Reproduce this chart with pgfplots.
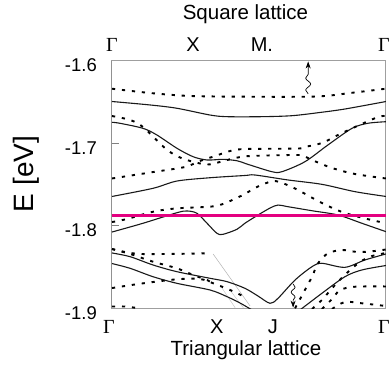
\documentclass[border=0pt]{standalone}
\usepackage{pgfplots}
\pgfplotsset{compat=1.18}
\usepackage{fontspec}
\setmainfont{Liberation Sans}
\newfontfamily\serif{Liberation Serif}
\usetikzlibrary{decorations.pathmorphing,arrows.meta}
\definecolor{mag}{RGB}{228,0,128}
\begin{document}
\begin{tikzpicture}
\pgfplotsset{
  sol/.style={black!90, line width=1.1pt, smooth, tension=0.5, no markers},
  dot/.style={black, line width=1.9pt, dash pattern=on 3.2pt off 6.8pt, smooth, tension=0.5, no markers},
}
\begin{axis}[
  at={(0,0)}, anchor=south west,
  scale only axis, width=274pt, height=247.5pt,
  xmin=0, xmax=1, ymin=-1.9, ymax=-1.6,
  xtick=\empty,
  ytick={-1.9,-1.8,-1.7,-1.6},
  yticklabels={-1.9,-1.8,-1.7,-1.6},
  ytick pos=left, tick align=inside,
  major tick length=7pt,
  tick style={gray, line width=0.8pt},
  yticklabel style={font=\fontsize{18.5}{20}\selectfont, anchor=east, inner sep=0pt, xshift=-15pt, yshift=-5pt},
  axis line style={gray!75, line width=1pt},
  clip=true,
]
\addplot[dot] coordinates {(0,-1.6342)(0.139,-1.6394)(0.285,-1.6430)(0.504,-1.6439)(0.748,-1.6436)(0.869,-1.6394)(1,-1.6342)};
\addplot[sol] coordinates {(0,-1.6497)(0.139,-1.6539)(0.237,-1.6579)(0.358,-1.6661)(0.420,-1.6681)(0.547,-1.6681)(0.657,-1.6669)(0.759,-1.6630)(0.850,-1.6588)(1,-1.6497)};
\addplot[sol] coordinates {(0,-1.6749)(0.029,-1.6761)(0.113,-1.6822)(0.164,-1.6903)(0.237,-1.7064)(0.296,-1.7166)(0.347,-1.7206)(0.405,-1.7198)(0.456,-1.7215)(0.485,-1.7246)(0.504,-1.7267)(0.584,-1.7348)(0.620,-1.7348)(0.704,-1.7227)(0.788,-1.7024)(0.876,-1.6822)(0.934,-1.6761)(1,-1.6742)};
\addplot[dot] coordinates {(0,-1.6673)(0.066,-1.6721)(0.113,-1.6806)(0.193,-1.7061)(0.237,-1.7158)(0.285,-1.7218)(0.347,-1.7261)(0.394,-1.7230)(0.449,-1.7182)(0.504,-1.7158)(0.679,-1.7145)(0.704,-1.7164)(0.730,-1.7206)(0.803,-1.7303)(0.887,-1.7376)(1,-1.7430)};
\addplot[dot] coordinates {(0,-1.7430)(0.150,-1.7352)(0.266,-1.7291)(0.321,-1.7218)(0.376,-1.7158)(0.431,-1.7097)(0.485,-1.7073)(0.679,-1.7067)(0.704,-1.7048)(0.766,-1.7000)(0.825,-1.6903)(0.887,-1.6806)(0.971,-1.6685)(1,-1.6673)};
\addplot[sol] coordinates {(0,-1.7648)(0.150,-1.7549)(0.237,-1.7461)(0.358,-1.7421)(0.485,-1.7394)(0.522,-1.7388)(0.642,-1.7448)(0.766,-1.7501)(0.887,-1.7590)(1,-1.7648)};
\addplot[dot] coordinates {(0,-1.7958)(0.055,-1.7921)(0.150,-1.7833)(0.237,-1.7792)(0.358,-1.7772)(0.405,-1.7739)(0.478,-1.7630)(0.529,-1.7533)(0.588,-1.7461)(0.631,-1.7497)(0.679,-1.7570)(0.766,-1.7727)(0.850,-1.7848)(0.971,-1.7952)(1,-1.7958)};
\addplot[sol] coordinates {(0,-1.8079)(0.113,-1.7973)(0.237,-1.7845)(0.274,-1.7824)(0.310,-1.7852)(0.347,-1.7973)(0.383,-1.8095)(0.405,-1.8107)(0.456,-1.8046)(0.485,-1.7973)(0.533,-1.7873)(0.577,-1.7788)(0.606,-1.7752)(0.642,-1.7772)(0.730,-1.7821)(0.825,-1.7873)(0.912,-1.7973)(1,-1.8075)};
\addplot[mag, line width=3pt, no markers] coordinates {(0,-1.7881)(1,-1.7881)};
% lower bands
\addplot[dot] coordinates {(0,-1.8285)(0.047,-1.8321)(0.102,-1.8345)(0.212,-1.8345)(0.321,-1.8339)(0.358,-1.8333)};
\addplot[gray!60, line width=0.5pt, no markers] coordinates {(0.369,-1.8345)(0.504,-1.8976)};
\addplot[gray!50, line width=0.4pt, no markers] coordinates {(0.40,-1.875)(0.45,-1.900)};
\addplot[gray!50, line width=0.4pt, no markers] coordinates {(0.43,-1.878)(0.48,-1.900)};
\addplot[dot] coordinates {(0,-1.8285)(0.066,-1.8345)(0.150,-1.8439)(0.237,-1.8519)(0.296,-1.8600)(0.347,-1.8661)(0.376,-1.8721)};
\addplot[sol] coordinates {(0,-1.8333)(0.066,-1.8378)(0.150,-1.8479)(0.237,-1.8560)(0.358,-1.8640)(0.420,-1.8681)(0.485,-1.8761)(0.533,-1.8855)(0.577,-1.8943)(0.606,-1.8882)(0.668,-1.8661)(0.730,-1.8499)(0.766,-1.8458)(0.850,-1.8507)(0.923,-1.8418)(1,-1.8345)};
\addplot[sol] coordinates {(0,-1.8461)(0.066,-1.8519)(0.150,-1.8621)(0.237,-1.8701)(0.358,-1.8782)(0.420,-1.8863)(0.467,-1.8939)(0.511,-1.9024)};
\addplot[dot] coordinates {(0,-1.8758)(0.113,-1.8701)(0.237,-1.8652)(0.321,-1.8648)(0.376,-1.8709)(0.431,-1.8782)(0.485,-1.8867)};
\addplot[dot] coordinates {(0,-1.8982)(0.047,-1.8982)(0.091,-1.9)};
\addplot[dot] coordinates {(0.668,-1.9004)(0.704,-1.8782)(0.730,-1.8621)(0.752,-1.8458)(0.788,-1.8337)(0.839,-1.8297)(0.887,-1.8318)(0.934,-1.8318)(1,-1.8291)};
\addplot[dot] coordinates {(0.730,-1.9012)(0.766,-1.8903)(0.814,-1.8721)(0.861,-1.8564)(0.905,-1.8442)(0.949,-1.8370)(1,-1.8333)};
\addplot[sol] coordinates {(0.686,-1.9024)(0.766,-1.8822)(0.850,-1.8621)(0.912,-1.8539)(1,-1.8485)};
\addplot[dot] coordinates {(0.766,-1.9012)(0.807,-1.8879)(0.832,-1.8782)(0.887,-1.8742)(1,-1.8739)};
\addplot[dot] coordinates {(0.803,-1.9012)(0.850,-1.8927)(0.912,-1.8943)(1,-1.8976)};
% arrows
\draw[black, line width=0.7pt, -{Stealth[length=7pt,width=5pt]}, decorate, decoration={snake, amplitude=2.5pt, segment length=12pt, post length=7pt}] (axis cs:0.716,-1.6404) -- (axis cs:0.716,-1.6012);
\draw[black, line width=0.7pt, -{Stealth[length=7pt,width=5pt]}, decorate, decoration={snake, amplitude=2pt, segment length=10pt, post length=7pt}] (axis cs:0.661,-1.8709) -- (axis cs:0.661,-1.8995);
% left spine darker
\draw[gray!40!black, line width=1pt] (rel axis cs:0,0) -- (rel axis cs:0,1);
\end{axis}
% top labels
\node[font=\serif\fontsize{20}{22}\selectfont] at (0pt,263pt) {Γ};
\node[font=\fontsize{20}{22}\selectfont] at (81.1pt,263pt) {X};
\node[font=\fontsize{20}{22}\selectfont] at (149.9pt,263pt) {M.};
\node[font=\serif\fontsize{20}{22}\selectfont] at (272pt,263pt) {Γ};
\node[font=\fontsize{20.5}{22}\selectfont] at (133.5pt,294pt) {Square lattice};
% bottom labels
\node[font=\serif\fontsize{20}{22}\selectfont] at (-3pt,-19pt) {Γ};
\node[font=\fontsize{20}{22}\selectfont] at (104.7pt,-19pt) {X};
\node[font=\fontsize{20}{22}\selectfont] at (161pt,-19pt) {J};
\node[font=\serif\fontsize{20}{22}\selectfont] at (272pt,-19pt) {Γ};
\node[font=\fontsize{20.5}{22}\selectfont] at (134pt,-42pt) {Triangular lattice};
% y label
\node[font=\fontsize{28}{30}\selectfont, rotate=90] at (-86pt,134pt) {E [eV]};
\pgfresetboundingbox
\path (-112pt,-57pt) rectangle (280pt,308pt);
\end{tikzpicture}
\end{document}
